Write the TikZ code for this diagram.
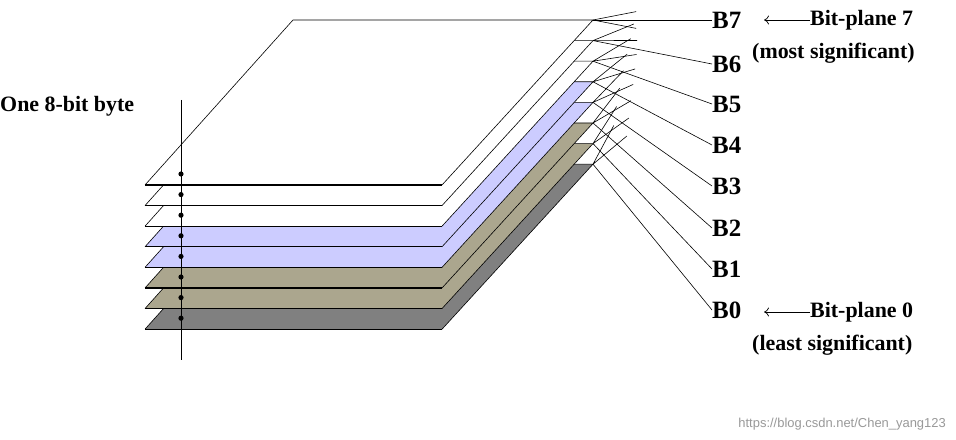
\documentclass[tikz,border=0pt]{standalone}
\usepackage{fontspec}
\setmainfont{Liberation Serif}
\setsansfont{Liberation Sans}
\usetikzlibrary{calc,arrows.meta}
\definecolor{pblue}{HTML}{CCCCFF}
\definecolor{pkhaki}{HTML}{ABA68E}
\definecolor{pgray}{HTML}{808080}
\begin{document}
\begin{tikzpicture}[x=1bp,y=-1bp,
  bl/.style={font=\bfseries\fontsize{25}{25}\selectfont,inner sep=0pt,anchor=west},
  tx/.style={font=\bfseries\fontsize{22}{22}\selectfont,inner sep=0pt,anchor=west},
  plane/.style={draw=black,line width=0.6bp}]
\useasboundingbox[fill=white] (0,0) rectangle (956,440);
\foreach \i/\c in {7/pgray,6/pkhaki,5/pkhaki,4/pblue,3/pblue,2/white,1/white,0/white}{
  \pgfmathsetmacro{\d}{20.6*\i}
  \fill[\c] (145,185+\d) -- (442,185+\d) -- (593,20+\d) -- (293,20+\d) -- cycle;
  \draw[plane] (442,185+\d) -- (593,20+\d) -- (293,20+\d) -- (145,185+\d);
  \draw[line width=1.2bp] (145,185+\d) -- (442,185+\d);
}
\coordinate (vt) at (181,100);
\coordinate (vb) at (181,360);
\draw[line width=0.8bp] (vt) -- (vb);
\foreach \i in {0,...,7}{
  \fill (181,174+20.6*\i) circle (2.6bp);
}
\node[tx,anchor=west] (byte) at (0,106) {One 8-bit byte};
\foreach \k/\y in {7/20,6/64,5/104,4/145,3/186,2/228,1/269,0/310}{
  \pgfmathsetmacro{\cy}{20+20.6*(7-\k)}
  \coordinate (c\k) at (593,\cy);
  \node[bl] (b\k) at (712,\y) {B\k};
  \draw[line width=0.6bp] (b\k.west) -- (c\k);
  \draw[line width=0.6bp] let \p1=($(b\k.west)-(c\k)$), \n1={atan2(\y1,\x1)} in
    (c\k) -- ++(\n1+11:44) (c\k) -- ++(\n1-11:44);
}
\node[tx] (bp7) at (810,20) {Bit-plane 7};
\node[tx] (ms) at (752,53) {(most significant)};
\node[tx] (bp0) at (810,312) {Bit-plane 0};
\node[tx] (ls) at (752,345) {(least significant)};
\draw[line width=0.7bp,-{To[length=5bp,width=9bp]}] (bp7.west) -- ([xshift=-46bp]bp7.west);
\draw[line width=0.7bp,-{To[length=5bp,width=9bp]}] (bp0.west) -- ([xshift=-46bp]bp0.west);
\node[font=\sffamily\fontsize{13}{13}\selectfont,text=black!40,anchor=east,inner sep=0pt] (wm) at (946,424) {https://blog.csdn.net/Chen\_yang123};
\end{tikzpicture}
\end{document}
